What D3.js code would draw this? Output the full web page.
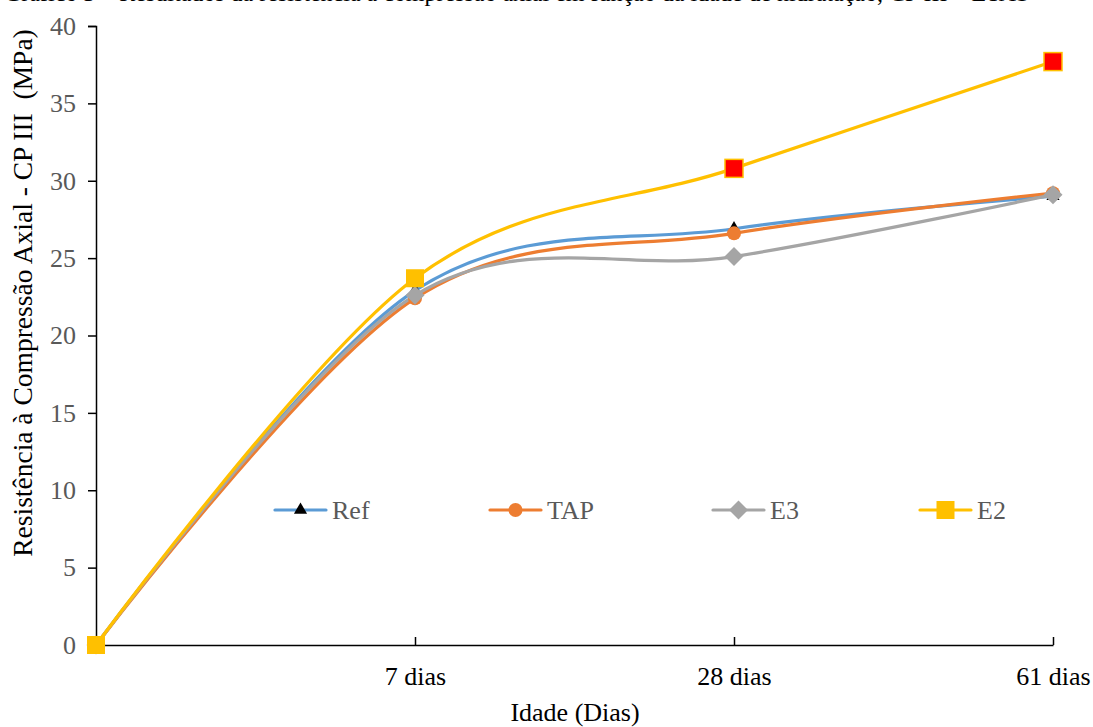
<!DOCTYPE html>
<html><head><meta charset="utf-8">
<script src="https://cdn.jsdelivr.net/npm/d3@7"></script>
<style>body{margin:0;background:#fff}svg{display:block}text{font-family:"Liberation Serif","Times New Roman",serif}</style>
</head><body><svg id="c" width="1093" height="727"></svg>
<script>
const categories = ["", "7 dias", "28 dias", "61 dias"];
const refValues = [0, 22.9, 26.9, 29.0];
const tapValues = [0, 22.4, 26.6, 29.2];
const e3Values  = [0, 22.6, 25.1, 29.1];
const e2Values  = [0, 23.7, 30.8, 37.7];
const yTicks = [0, 5, 10, 15, 20, 25, 30, 35, 40];
const seriesNames = ["Ref", "TAP", "E3", "E2"];

const svg = d3.select("#c");
const x = d3.scalePoint().domain(categories).range([96, 1053]);
const y = d3.scaleLinear().domain([0, 40]).range([645, 26]);

// cut-off title at top (only descenders visible, as in the reference)
svg.append("text").attr("x", 4).attr("y", 1).attr("font-size", 24).attr("fill", "#000")
  .text("Gráfico 3 – Resultados da resistência à compressão axial em função da idade de hidratação, CP III – ETAS");

// axes
const yAxis = svg.append("g").attr("transform", "translate(96,0)")
  .call(d3.axisLeft(y).tickValues(yTicks).tickSize(8).tickPadding(12));
yAxis.select(".domain").attr("stroke", "#000").attr("stroke-width", 1.5);
yAxis.selectAll(".tick line").attr("stroke", "#000").attr("stroke-width", 1.5);
yAxis.selectAll(".tick text").attr("font-size", 26).attr("fill", "#595959")
  .attr("font-family", "Liberation Serif");

const xAxis = svg.append("g").attr("transform", "translate(0,645)")
  .call(d3.axisBottom(x).tickSize(-8).tickSizeOuter(0).tickPadding(22));
xAxis.select(".domain").attr("stroke", "#000").attr("stroke-width", 1.5);
xAxis.selectAll(".tick line").attr("stroke", "#000").attr("stroke-width", 1.5);
xAxis.selectAll(".tick").filter(d => d === "").select("line").remove();
xAxis.selectAll(".tick text").attr("font-size", 26).attr("fill", "#000")
  .attr("font-family", "Liberation Serif");

svg.append("text").attr("x", 575).attr("y", 721).attr("text-anchor", "middle")
  .attr("font-size", 26).attr("fill", "#000").text("Idade (Dias)");
svg.append("text").attr("transform", "translate(32,293) rotate(-90)").attr("text-anchor", "middle")
  .attr("font-size", 27.5).attr("fill", "#000").style("white-space", "pre")
  .text("Resistência à Compressão Axial - CP III  (MPa)");

const line = d3.line().x((d, i) => x(categories[i])).y(d => y(d)).curve(d3.curveCatmullRom.alpha(0));
const series = [
  {name: "Ref", vals: refValues, color: "#5B9BD5"},
  {name: "TAP", vals: tapValues, color: "#ED7D31"},
  {name: "E3", vals: e3Values, color: "#A5A5A5"},
  {name: "E2", vals: e2Values, color: "#FFC000"}
];
series.forEach(s => {
  svg.append("path").attr("d", line(s.vals)).attr("fill", "none")
    .attr("stroke", s.color).attr("stroke-width", 3.2).attr("stroke-linecap", "round");
});

function marker(g, name, cx, cy, idx) {
  if (name === "Ref") {
    g.append("path").attr("d", d3.symbol(d3.symbolTriangle, 75)()).attr("transform", `translate(${cx},${cy})`).attr("fill", "#000");
  } else if (name === "TAP") {
    g.append("circle").attr("cx", cx).attr("cy", cy).attr("r", 7).attr("fill", "#ED7D31");
  } else if (name === "E3") {
    g.append("path").attr("d", "M0,-9.5L9.5,0L0,9.5L-9.5,0Z").attr("transform", `translate(${cx},${cy})`).attr("fill", "#A5A5A5");
  } else {
    const red = idx >= 2;
    g.append("rect").attr("x", cx - 9).attr("y", cy - 9).attr("width", 18).attr("height", 18)
      .attr("fill", red ? "#FF0000" : "#FFC000").attr("stroke", "#FFC000").attr("stroke-width", red ? 1.5 : 0);
  }
}
const mg = svg.append("g");
series.forEach(s => s.vals.forEach((v, i) => marker(mg, s.name, x(categories[i]), y(v), i)));

// legend
const legX = [275, 490, 713, 920];
const lg = svg.append("g");
series.forEach((s, i) => {
  const lx = legX[i], ly = 510;
  lg.append("line").attr("x1", lx).attr("x2", lx + 51).attr("y1", ly).attr("y2", ly)
    .attr("stroke", s.color).attr("stroke-width", 3.2).attr("stroke-linecap", "round");
  marker(lg, s.name, lx + 25.5, ly, 0);
  lg.append("text").attr("x", lx + 57).attr("y", ly + 9).attr("font-size", 26).attr("fill", "#595959").text(seriesNames[i]);
});
</script></body></html>
